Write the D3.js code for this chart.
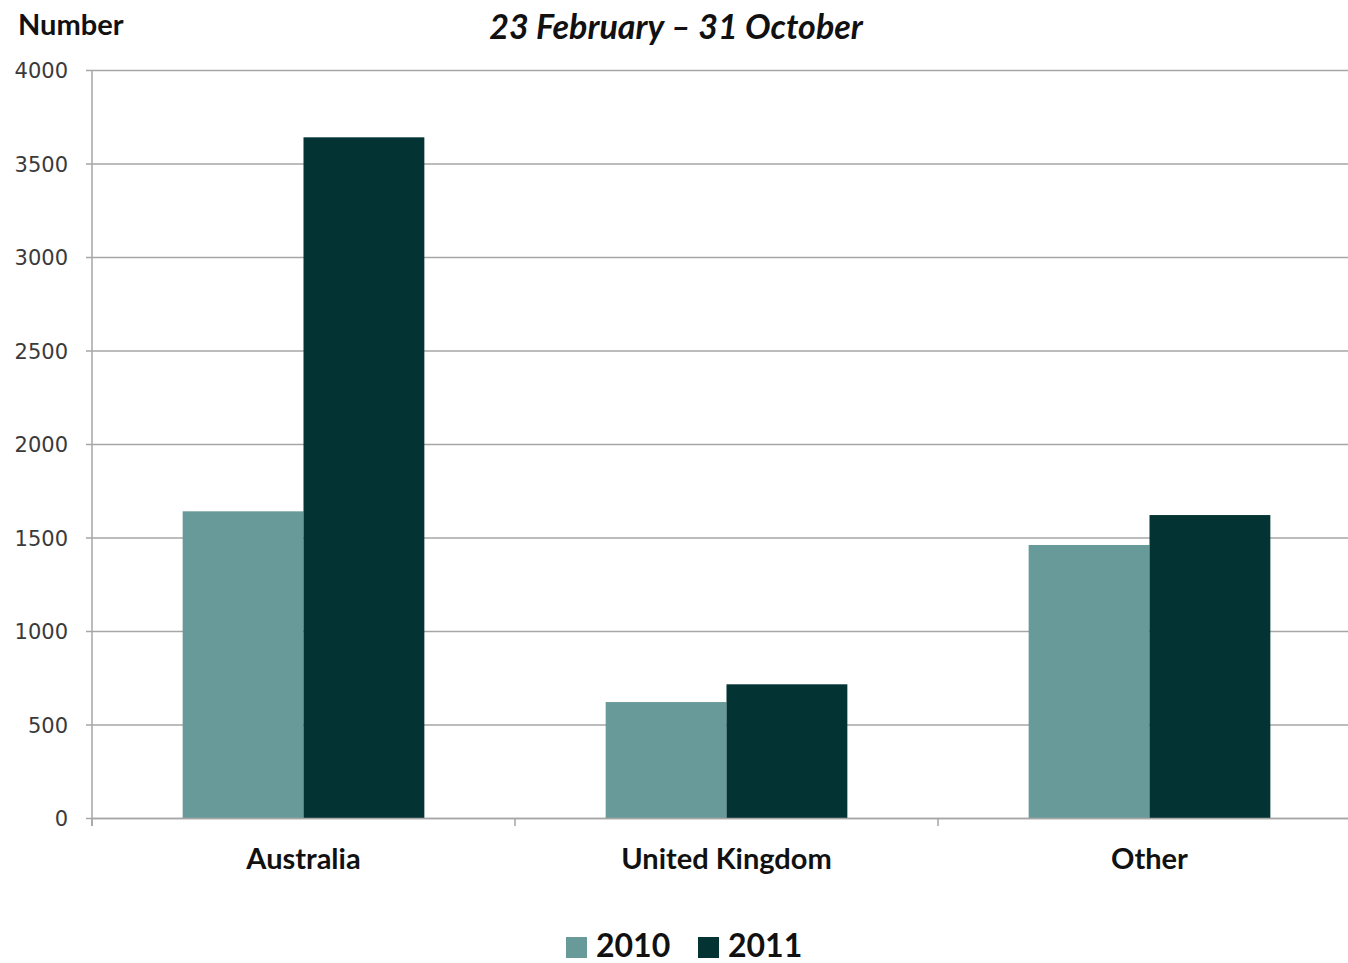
<!DOCTYPE html>
<html><head><meta charset="utf-8">
<script src="https://cdn.jsdelivr.net/npm/d3@7"></script>
<style>html,body{margin:0;padding:0;background:#fff;overflow:hidden}</style>
</head><body>
<svg id="c" width="1348" height="963"></svg>
<script>
const categories = ["Australia", "United Kingdom", "Other"];
const seriesNames = ["2010", "2011"];
const values2010 = [1640, 620, 1460];
const values2011 = [3640, 715, 1620];
const yTicks = [0, 500, 1000, 1500, 2000, 2500, 3000, 3500, 4000];
const colors = ["#679a98", "#033333"];

const svg = d3.select("#c");
const pLeft = 92, pRight = 1361, pTop = 70, pBottom = 818;

const x = d3.scaleBand().domain(categories).range([pLeft, pRight]).paddingInner(0).paddingOuter(0);
const inner = d3.scaleBand().domain(seriesNames).range([0, x.bandwidth()]).paddingOuter(0.75).paddingInner(0);
const y = d3.scaleLinear().domain([0, 4000]).range([pBottom, pTop]);

// gridlines
const gy = svg.append("g").attr("transform", `translate(${pLeft},0)`)
  .call(d3.axisLeft(y).tickValues(yTicks).tickFormat(d3.format("d")).tickSize(-(pRight - pLeft)).tickSizeOuter(0).tickPadding(24));
gy.select(".domain").remove();
gy.selectAll(".tick line").attr("stroke", "#a6a6a6").attr("stroke-width", 1.5);
gy.selectAll(".tick text").attr("font-family", "DejaVu Sans, sans-serif").attr("font-size", 21).attr("fill", "#3a3a3a").attr("dy", "0.36em");
// small left ticks
svg.append("g").attr("transform", `translate(${pLeft},0)`)
  .call(d3.axisLeft(y).tickValues(yTicks).tickSize(6).tickSizeOuter(0).tickFormat(""))
  .call(g => g.select(".domain").remove())
  .selectAll("line").attr("stroke", "#a6a6a6").attr("stroke-width", 1.5);

// bars
const data = categories.map((c, i) => ({c, vals: [values2010[i], values2011[i]]}));
const grp = svg.append("g").selectAll("g").data(data).join("g").attr("transform", d => `translate(${x(d.c)},0)`);
grp.selectAll("rect").data(d => d.vals.map((v, j) => ({s: seriesNames[j], v, j}))).join("rect")
  .attr("x", d => inner(d.s)).attr("width", inner.bandwidth())
  .attr("y", d => y(d.v)).attr("height", d => y(0) - y(d.v))
  .attr("fill", d => colors[d.j]);

// y axis line
svg.append("line").attr("x1", pLeft).attr("x2", pLeft).attr("y1", pTop).attr("y2", pBottom + 8).attr("stroke", "#a6a6a6").attr("stroke-width", 1.5);

// x axis
const gx = svg.append("g").attr("transform", `translate(0,${pBottom})`)
  .call(d3.axisBottom(x).tickSize(0).tickPadding(30));
gx.select(".domain").attr("stroke", "#a6a6a6").attr("stroke-width", 1.5);
gx.selectAll(".tick text").attr("font-family", "Lato, sans-serif").attr("font-weight", "bold").attr("font-size", 29).attr("fill", "#111");
// category boundary ticks
svg.append("g").selectAll("line").data(categories).join("line")
  .attr("x1", d => x(d)).attr("x2", d => x(d)).attr("y1", pBottom).attr("y2", pBottom + 8)
  .attr("stroke", "#a6a6a6").attr("stroke-width", 1.5);

// axis title & title
svg.append("text").attr("x", 18).attr("y", 35).text("Number")
  .attr("font-family", "Lato, sans-serif").attr("font-weight", "bold").attr("font-size", 29).attr("fill", "#111");
svg.append("text").attr("x", 676).attr("y", 39).attr("text-anchor", "middle").text("23 February \u2013 31 October")
  .attr("font-family", "Lato, sans-serif").attr("font-style", "italic").attr("font-weight", "bold").attr("font-size", 34).attr("fill", "#111");

// legend
const legX = [566, 698];
const leg = svg.append("g").selectAll("g").data(seriesNames).join("g").attr("transform", (d, i) => `translate(${legX[i]},937)`);
leg.append("rect").attr("width", 21).attr("height", 21).attr("fill", (d, i) => colors[i]);
leg.append("text").attr("x", 30).attr("y", 20).text(d => d)
  .attr("font-family", "Lato, sans-serif").attr("font-weight", "bold").attr("font-size", 32).attr("fill", "#111");
</script>
</body></html>
